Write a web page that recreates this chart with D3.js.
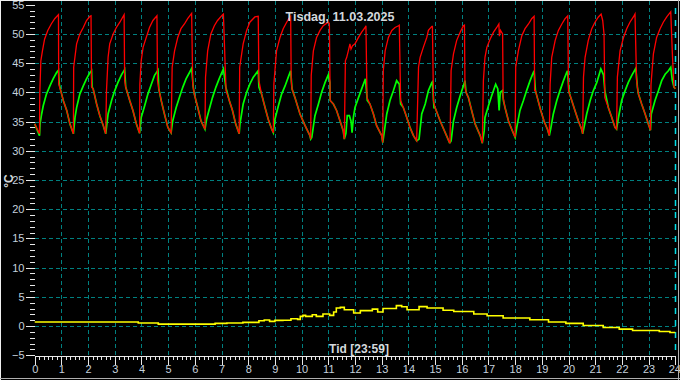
<!DOCTYPE html>
<html><head><meta charset="utf-8">
<script src="https://cdn.jsdelivr.net/npm/d3@7/dist/d3.min.js"></script>
<style>html,body{margin:0;padding:0;background:#000;overflow:hidden}svg{display:block}</style>
</head><body><svg id="c" width="680" height="380"></svg>
<script>
const chartTitle = "Tisdag, 11.03.2025";
const xTitle = "Tid [23:59]";
const yTitle = "°C";
const hourTicks = [0,1,2,3,4,5,6,7,8,9,10,11,12,13,14,15,16,17,18,19,20,21,22,23,24];
const tempTicks = [-5,0,5,10,15,20,25,30,35,40,45,50,55];
const gridTemps = [0,5,10,15,20,25,30,35,40,45,50];

// red series [hour, °C]
const redSeries = [
[0,34.6],[0.18,32.9],[0.19,39.7],[0.23,45.4],[0.29,47.1],[0.37,49.1],[0.49,50.6],[0.62,51.7],[0.75,52.6],[0.89,53.3],[0.90,41.4],[1.01,39.7],[1.07,38.6],[1.20,36.9],[1.32,34.6],[1.45,32.9],
[1.46,44.3],[1.57,48.3],[1.69,50.0],[1.82,51.1],[1.94,52.3],[2.07,53.0],[2.11,53.1],[2.13,40.9],[2.19,40.6],[2.32,38.0],[2.44,36.0],[2.57,34.3],[2.66,32.9],
[2.69,40.3],[2.75,46.0],[2.81,48.3],[2.94,50.0],[3.06,51.1],[3.19,52.0],[3.35,53.3],[3.37,42.0],[3.41,40.9],[3.56,38.6],[3.68,36.9],[3.81,34.6],[3.93,33.0],
[3.94,41.4],[3.99,45.4],[4.06,47.7],[4.18,49.4],[4.30,51.1],[4.43,52.3],[4.58,53.1],[4.60,42.0],[4.65,40.6],[4.74,38.6],[4.86,36.3],[4.99,34.0],[5.11,33.1],
[5.15,44.3],[5.24,47.1],[5.36,49.4],[5.48,50.9],[5.61,51.7],[5.73,52.6],[5.88,53.5],[5.92,41.4],[5.98,39.7],[6.11,37.4],[6.23,35.1],[6.38,33.7],
[6.40,42.6],[6.48,47.1],[6.60,50.0],[6.73,51.4],[6.85,52.3],[7.04,53.3],[7.07,53.4],[7.14,44.0],[7.17,40.3],[7.29,38.6],[7.41,36.9],[7.53,34.6],[7.66,32.9],
[7.68,44.3],[7.81,48.3],[7.94,50.6],[8.06,52.0],[8.25,52.9],[8.375,53.0],[8.40,42.0],[8.5,39.7],[8.63,37.4],[8.75,35.4],[8.88,33.7],[8.94,33.1],
[8.96,41.4],[9.06,47.1],[9.19,49.4],[9.31,50.9],[9.44,52.0],[9.56,52.9],[9.59,53.0],[9.61,42.0],[9.64,40.6],[9.75,39.1],[9.94,36.3],[10.13,34.3],[10.31,32.6],[10.34,32.0],
[10.36,42.9],[10.44,47.1],[10.56,49.4],[10.69,50.6],[10.81,51.4],[11.0,52.0],[11.04,51.8],[11.07,38.6],[11.19,38.0],[11.31,36.9],[11.44,35.1],[11.56,33.4],[11.6,32.0],
[11.64,45.4],[11.69,46.0],[11.75,47.1],[11.81,48.3],[11.85,47.4],[11.91,48.0],[12.0,48.3],[12.13,49.4],[12.25,50.3],[12.38,51.1],[12.41,51.4],[12.45,39.1],[12.56,38.0],[12.69,36.3],[12.81,34.3],[13.0,32.6],[13.04,31.4],
[13.06,43.7],[13.13,47.1],[13.25,49.4],[13.38,50.6],[13.5,51.1],[13.63,51.4],[13.66,51.5],[13.71,38.6],[13.81,37.4],[13.94,35.7],[14.06,34.0],[14.19,32.6],[14.31,31.7],
[14.38,44.3],[14.44,46.0],[14.56,47.7],[14.69,49.4],[14.75,50.6],[14.88,51.3],[14.9,51.3],[14.94,38.6],[15.0,37.4],[15.19,35.1],[15.38,33.1],[15.54,31.4],[15.56,31.4],
[15.6,43.7],[15.69,46.6],[15.81,48.9],[15.94,50.3],[16.06,51.4],[16.1,51.5],[16.12,40.9],[16.16,40.0],[16.25,39.1],[16.37,36.9],[16.5,34.6],[16.69,32.6],[16.77,31.3],
[16.81,42.0],[16.87,46.0],[16.94,47.7],[17.06,49.1],[17.19,50.3],[17.31,51.1],[17.39,51.7],[17.41,49.6],[17.45,50.6],[17.53,50.0],[17.55,39.1],[17.62,37.4],[17.75,35.1],[17.87,33.7],[18.0,32.3],
[18.02,44.3],[18.12,47.1],[18.25,49.7],[18.37,50.9],[18.5,51.7],[18.62,52.6],[18.71,53.0],[18.73,40.3],[18.76,40.3],[18.83,39.1],[18.96,36.9],[19.08,35.1],[19.21,33.7],[19.28,32.6],
[19.31,41.4],[19.37,46.0],[19.5,48.9],[19.62,50.6],[19.75,51.7],[19.87,52.6],[19.97,53.1],[20.0,40.3],[20.02,40.0],[20.12,38.6],[20.24,36.9],[20.37,35.1],[20.49,33.7],[20.53,32.9],
[20.56,42.6],[20.62,46.0],[20.74,48.9],[20.87,50.9],[20.99,52.0],[21.12,52.9],[21.22,53.4],[21.28,52.3],[21.33,50.0],[21.36,39.1],[21.49,37.4],[21.62,35.7],[21.74,34.0],[21.8,33.7],
[21.83,42.6],[21.93,47.1],[22.06,49.4],[22.18,50.9],[22.3,52.0],[22.43,52.9],[22.49,53.4],[22.55,42.0],[22.58,40.9],[22.62,39.7],[22.74,38.0],[22.87,36.3],[22.99,34.6],[23.07,33.5],
[23.09,41.4],[23.18,46.6],[23.3,49.4],[23.43,50.9],[23.55,52.0],[23.68,52.9],[23.83,53.8],[23.89,46.6],[23.95,40.9],[24,40.6]
];

// green series [hour, °C]
const greenSeries = [
[0,34.6],[0.18,32.6],[0.20,34.6],[0.26,36.3],[0.32,37.7],[0.44,39.7],[0.57,41.1],[0.69,42.3],[0.82,43.4],[0.89,43.8],[0.92,41.4],[1.01,39.7],[1.07,38.6],[1.20,36.9],[1.32,34.6],[1.45,32.9],
[1.51,35.7],[1.57,37.4],[1.69,39.7],[1.82,41.1],[1.94,42.3],[2.07,43.4],[2.13,43.7],[2.15,40.9],[2.19,40.6],[2.32,38.0],[2.44,36.0],[2.57,34.3],[2.66,32.9],
[2.75,36.3],[2.88,38.6],[3.0,40.3],[3.12,41.7],[3.25,43.0],[3.37,43.9],[3.41,40.9],[3.56,38.6],[3.68,36.9],[3.81,34.6],[3.93,33.0],
[3.99,35.7],[4.12,37.7],[4.24,39.7],[4.37,41.4],[4.49,42.9],[4.62,43.8],[4.65,40.6],[4.74,38.6],[4.86,36.3],[4.99,34.0],[5.11,33.1],
[5.17,35.1],[5.30,37.4],[5.42,39.1],[5.55,40.9],[5.67,42.3],[5.80,43.4],[5.88,44.1],[5.94,40.9],[5.98,39.7],[6.11,37.4],[6.23,35.1],[6.38,33.7],
[6.44,35.4],[6.54,37.1],[6.66,39.1],[6.79,40.9],[6.91,42.3],[7.07,44.0],[7.16,40.9],[7.29,38.6],[7.41,36.9],[7.53,34.6],[7.66,32.9],
[7.69,34.6],[7.81,38.0],[7.94,40.0],[8.06,41.4],[8.19,42.6],[8.375,43.7],[8.40,40.9],[8.5,39.7],[8.63,37.4],[8.75,35.4],[8.88,33.7],[8.94,33.1],
[9.0,35.4],[9.13,37.7],[9.25,39.7],[9.38,41.1],[9.5,42.6],[9.59,43.7],[9.64,40.6],[9.75,39.1],[9.94,36.3],[10.13,34.3],[10.31,32.6],[10.34,32.0],
[10.38,32.3],[10.5,36.0],[10.63,38.0],[10.75,40.0],[10.88,41.7],[11.0,43.0],[11.06,41.7],[11.07,38.6],[11.19,38.0],[11.31,36.9],[11.44,35.1],[11.56,33.4],[11.6,32.0],
[11.66,33.0],[11.71,36.0],[11.79,36.0],[11.85,35.1],[11.89,33.1],[11.94,35.7],[12.0,37.4],[12.13,39.1],[12.25,40.6],[12.39,42.3],[12.46,38.6],[12.56,38.0],[12.69,36.3],[12.81,34.3],[13.0,32.6],[13.04,31.4],
[13.09,33.0],[13.19,36.3],[13.31,38.6],[13.44,40.3],[13.56,42.0],[13.66,41.4],[13.71,38.0],[13.81,37.4],[13.94,35.7],[14.06,34.0],[14.19,32.6],[14.31,31.7],
[14.4,32.0],[14.5,36.3],[14.63,38.0],[14.75,40.3],[14.88,41.7],[14.9,41.8],[14.96,37.4],[15.0,37.4],[15.19,35.1],[15.38,33.1],[15.54,31.4],[15.56,31.4],
[15.6,31.7],[15.69,35.1],[15.81,37.4],[15.94,39.4],[16.06,41.1],[16.12,42.0],[16.16,40.0],[16.25,39.1],[16.37,36.9],[16.5,34.6],[16.69,32.6],[16.77,31.3],
[16.84,33.4],[16.87,35.7],[17.0,37.7],[17.12,39.4],[17.27,41.4],[17.35,40.6],[17.4,36.9],[17.44,40.0],[17.52,40.3],[17.56,38.6],[17.62,37.4],[17.75,35.1],[17.87,33.7],[18.0,32.3],
[18.06,34.0],[18.18,36.9],[18.31,38.6],[18.43,40.3],[18.56,42.0],[18.68,43.4],[18.71,43.7],[18.76,40.3],[18.83,39.1],[18.96,36.9],[19.08,35.1],[19.21,33.7],[19.28,32.6],
[19.33,33.7],[19.43,36.3],[19.56,38.6],[19.68,40.3],[19.81,42.0],[19.93,43.4],[19.96,43.7],[20.02,40.0],[20.12,38.6],[20.24,36.9],[20.37,35.1],[20.49,33.7],[20.53,32.9],
[20.58,34.0],[20.68,36.3],[20.81,38.6],[20.93,40.3],[21.06,41.7],[21.21,44.0],[21.31,43.0],[21.36,40.3],[21.49,37.4],[21.62,35.7],[21.74,34.0],[21.8,33.7],
[21.87,35.7],[21.99,38.6],[22.12,40.3],[22.24,41.7],[22.37,42.9],[22.52,44.1],[22.58,40.9],[22.62,39.7],[22.74,38.0],[22.87,36.3],[22.99,34.6],[23.07,33.5],
[23.1,36.3],[23.24,38.6],[23.37,40.3],[23.49,42.0],[23.62,43.1],[23.74,43.7],[23.83,44.3],[23.89,42.0],[23.95,40.9],[24,40.6]
];

// yellow series [hour, °C]
const yellowSeries = [
[0,0.69],[3.88,0.52],[4.63,0.34],[6.76,0.46],[7.2,0.52],[7.8,0.63],[8.4,0.92],[8.6,1.03],[8.8,0.8],[9.0,0.98],[9.3,1.0],[9.6,1.26],[9.85,1.15],
[9.95,1.67],[10.05,1.84],[10.15,1.67],[10.4,1.95],[10.55,1.67],[10.8,2.07],[11.05,1.84],[11.2,2.41],[11.3,3.1],[11.45,3.2],[11.6,2.8],
[11.95,2.24],[12.2,2.64],[12.65,2.9],[12.85,2.4],[13.05,3.0],[13.55,3.5],[13.75,3.3],[13.95,2.8],[14.4,3.33],[14.7,3.1],[15.3,2.7],[15.7,2.5],
[16.45,2.07],[16.95,1.78],[17.55,1.38],[18.55,1.09],[19.25,0.69],[19.9,0.46],[20.55,0.11],[21.3,-0.23],[21.9,-0.52],[22.4,-0.75],[23.4,-0.92],[23.8,-1.09],[24,-1.09]
];

const W = 680, H = 380;
const svg = d3.select("#c");
svg.append("rect").attr("width",W).attr("height",H).attr("fill","#000");

const x = d3.scaleLinear().domain([0,24]).range([34.7,675.3]);
const y = d3.scaleLinear().domain([-5,55]).range([355.3,4.7]);
const font = "'Liberation Sans', Arial, sans-serif";
const gridCol = "#008080";

// grid
svg.append("g").selectAll("line").data(hourTicks.filter(h => h > 0 && h < 24)).join("line")
  .attr("x1", d => Math.round(x(d)) + 0.5).attr("x2", d => Math.round(x(d)) + 0.5)
  .attr("y1", 1).attr("y2", 355)
  .attr("stroke", gridCol).attr("stroke-dasharray","4,3").attr("shape-rendering","crispEdges");
svg.append("g").selectAll("line").data(gridTemps).join("line")
  .attr("x1", 35).attr("x2", 676)
  .attr("y1", d => Math.round(y(d)) + 0.5).attr("y2", d => Math.round(y(d)) + 0.5)
  .attr("stroke", gridCol).attr("stroke-dasharray","4,3").attr("shape-rendering","crispEdges");

// current time marker
svg.append("line")
  .attr("x1", Math.round(x(24)) + 0.5).attr("x2", Math.round(x(24)) + 0.5)
  .attr("y1", 8).attr("y2", 355)
  .attr("stroke", "#00dde6").attr("stroke-width", 1.5).attr("stroke-dasharray","6,6");

const line = d3.line().x(d => x(d[0])).y(d => y(d[1]));
const stepLine = d3.line().x(d => x(d[0])).y(d => y(d[1])).curve(d3.curveStepAfter);

svg.append("path").datum(yellowSeries).attr("d", stepLine)
  .attr("fill","none").attr("stroke","#ffff00").attr("stroke-width",1.6);
svg.append("path").datum(greenSeries).attr("d", line)
  .attr("fill","none").attr("stroke","#00ff00").attr("stroke-width",1.7).attr("stroke-linejoin","miter");
svg.append("path").datum(redSeries).attr("d", line)
  .attr("fill","none").attr("stroke","#ff0000").attr("stroke-width",1.3).attr("stroke-linejoin","miter");

// axes
const tickCol = "#e8e8e8", labelCol = "#c4d0dc";
function style(g){
  g.select(".domain").attr("stroke", tickCol).attr("shape-rendering","crispEdges");
  g.selectAll(".tick line").attr("stroke", tickCol).attr("shape-rendering","crispEdges");
  g.selectAll(".tick text").attr("fill", labelCol).attr("font-family", font).attr("font-size","11px");
}
const xAxisG = svg.append("g").attr("transform","translate(0,355.5)")
  .call(d3.axisBottom(x).tickValues(hourTicks).tickSize(9).tickPadding(1).tickSizeOuter(0).tickFormat(d3.format("d")));
style(xAxisG);
xAxisG.selectAll(".tick text").filter(d => d === 24).attr("dx", "-1px");
const xMinorG = svg.append("g").attr("transform","translate(0,355.5)")
  .call(d3.axisBottom(x).tickValues(d3.range(0, 24.001, 1/6)).tickSize(4).tickSizeOuter(0).tickFormat(""));
style(xMinorG);
const yAxisG = svg.append("g").attr("transform","translate(35,0)")
  .call(d3.axisLeft(y).tickValues(tempTicks).tickSize(9).tickPadding(1.5).tickSizeOuter(0).tickFormat(d3.format("d")));
style(yAxisG); yAxisG.select(".domain").remove();
const yMinorG = svg.append("g").attr("transform","translate(35,0)")
  .call(d3.axisLeft(y).tickValues(d3.range(-5, 55.01, 1)).tickSize(5).tickSizeOuter(0).tickFormat(""));
style(yMinorG); yMinorG.select(".domain").remove();

// texts
svg.append("text").attr("x", 340).attr("y", 21).attr("text-anchor","middle")
  .attr("font-family", font).attr("font-size","12.5px").attr("font-weight","bold").attr("fill","#d4d8dc").text(chartTitle);
svg.append("text").attr("x", 359).attr("y", 353).attr("text-anchor","middle")
  .attr("font-family", font).attr("font-size","12px").attr("font-weight","bold").attr("fill","#d4d8dc").text(xTitle);
svg.append("text").attr("transform","translate(13,181) rotate(-90)").attr("text-anchor","middle")
  .attr("font-family", font).attr("font-size","12px").attr("font-weight","bold").attr("fill","#d4d8dc").text(yTitle);

// frame
svg.append("line").attr("x1",0).attr("x2",W).attr("y1",0.5).attr("y2",0.5).attr("stroke","#f0f0f0");
svg.append("line").attr("x1",0.5).attr("x2",0.5).attr("y1",0).attr("y2",H).attr("stroke","#f0f0f0");
svg.append("line").attr("x1",0).attr("x2",W).attr("y1",378.5).attr("y2",378.5).attr("stroke","#b0b0b0");
svg.append("line").attr("x1",678.5).attr("x2",678.5).attr("y1",0).attr("y2",H).attr("stroke","#b0b0b0");
</script></body></html>
